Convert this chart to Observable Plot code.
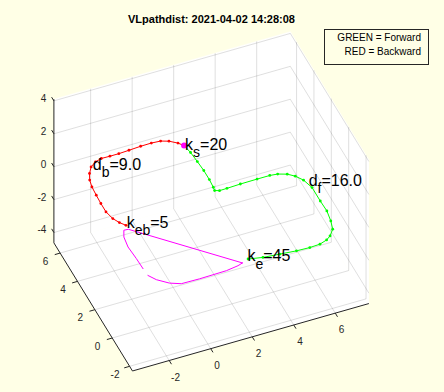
<!DOCTYPE html>
<html><head><meta charset="utf-8">
<script src="https://cdn.jsdelivr.net/npm/d3@7"></script>
<script src="https://cdn.jsdelivr.net/npm/@observablehq/plot@0.6"></script>
<style>
html,body{margin:0;padding:0;background:#ffffe6;}
#fig{position:relative;width:444px;height:392px;overflow:hidden;font-family:"Liberation Sans",Arial,Helvetica,sans-serif;}
#fig svg{position:absolute;left:0;top:0;}
#title{position:absolute;left:0;top:13px;width:423px;text-align:center;font-weight:bold;font-size:11px;line-height:13px;color:#000;white-space:nowrap;}
#legend{position:absolute;left:324px;top:29px;width:105px;height:36px;box-sizing:border-box;border:1px solid #262626;background:#ffffe6;text-align:right;padding:0.9px 7px 0 0;font-size:10px;line-height:14.3px;color:#000;white-space:nowrap;}
</style></head>
<body><div id="fig"></div>
<script>
// ---- axes limits and ticks (data units) ----
const xLim = [-3.77, 7.62];
const yLim = [-2.33, 6.72];
const zLim = [-4.63, 4.10];
const xTicks = [-2, 0, 2, 4, 6];
const yTicks = [-2, 0, 2, 4, 6];
const zTicks = [-4, -2, 0, 2, 4];

// ---- paths (x, y) on the plane z = pathZ ----
const pathZ = 0;
const redX = [2.10,1.91,1.59,1.25,0.82,0.30,-0.28,-0.78,-1.21,-1.62,-1.94,-2.25,-2.48,-2.64,-2.72,-2.75,-2.77,-2.77,-2.66,-2.49,-2.29];
const redY = [5.76,6.01,6.28,6.43,6.47,6.46,6.42,6.39,6.39,6.40,6.30,6.07,5.70,5.30,4.85,4.28,3.70,3.11,2.59,2.24,1.96];
const greenX = [2.10,2.19,2.24,2.28,2.28,2.25,2.22,2.42,2.78,3.44,4.25,4.86,5.22,5.61,5.89,6.13,6.29,6.29,6.31,6.22,6.09,5.81,5.57,5.19,4.69,4.06,3.29,2.52,1.87];
const greenY = [5.76,5.23,4.57,3.92,3.28,2.75,2.53,2.44,2.45,2.48,2.49,2.49,2.44,2.27,2.01,1.63,1.04,0.09,-0.62,-1.29,-1.82,-2.18,-2.36,-2.50,-2.53,-2.50,-2.41,-2.32,-2.16];
const magAX = [1.54,-2.29,-2.50,-2.67,-2.75,-2.70,-2.68];
const magAY = [-2.30,1.68,1.70,1.29,0.62,-0.22,-0.94];
const magBX = [-2.65,-2.41,-1.96,-1.49,-0.62,0.69,1.29,1.54];
const magBY = [-1.43,-1.83,-2.26,-2.50,-2.52,-2.49,-2.39,-2.30];

// ---- annotations ----
const labelMain = ["k", "d", "k", "d", "k"];
const labelSub  = ["s", "b", "eb", "f", "e"];
const labelRest = ["=20", "=9.0", "=5", "=16.0", "=45"];
const labelX = [2.10, -2.18, -2.25, 6.26, 1.85];
const labelY = [5.76, 6.16, 2.09, 1.47, -2.02];
const startX = 2.10, startY = 5.76;

const titleText = "VLpathdist: 2021-04-02 14:28:08";
const legendLines = ["GREEN = Forward", "RED = Backward"];

// ---- view (orthographic, azimuth / elevation) ----
const W = 444, H = 392;
const AZ = -22.7 * Math.PI / 180, EL = 43 * Math.PI / 180;
const S = 22.5, OX = 190.0, OY = 239.0;
const ca = Math.cos(AZ), sa = Math.sin(AZ), se = Math.sin(EL), ce = Math.cos(EL);
const U = p => ca * p[0] + sa * p[1];
const V = p => -se * sa * p[0] + se * ca * p[1] + ce * p[2];

const [x0, x1] = xLim, [y0, y1] = yLim, [z0, z1] = zLim;

const faces = [
  [[x0,y0,z0],[x1,y0,z0],[x1,y1,z0],[x0,y1,z0]],
  [[x0,y1,z0],[x1,y1,z0],[x1,y1,z1],[x0,y1,z1]],
  [[x1,y0,z0],[x1,y1,z0],[x1,y1,z1],[x1,y0,z1]]
];
const facePts = faces.flatMap((f, i) => f.map(p => ({p, i})));

const grid = [];
for (const t of xTicks) { grid.push([[t,y0,z0],[t,y1,z0]]); grid.push([[t,y1,z0],[t,y1,z1]]); }
for (const t of yTicks) { grid.push([[x0,t,z0],[x1,t,z0]]); grid.push([[x1,t,z0],[x1,t,z1]]); }
for (const t of zTicks) { grid.push([[x0,y1,t],[x1,y1,t]]); grid.push([[x1,y0,t],[x1,y1,t]]); }

const axesLines = [[[x0,y0,z0],[x1,y0,z0]], [[x0,y0,z0],[x0,y1,z0]], [[x0,y1,z0],[x0,y1,z1]]];
const TL = 0.26;
const tickSegs = [
  ...xTicks.map(t => [[t,y0,z0],[t,y0-TL,z0]]),
  ...yTicks.map(t => [[x0,t,z0],[x0-TL,t,z0]]),
  ...zTicks.map(t => [[x0,y1,t],[x0,y1+TL,t]])
];
const xLab = xTicks.map(t => ({p:[t,y0,z0], s:String(t)}));
const yLab = yTicks.map(t => ({p:[x0,t,z0], s:String(t)}));
const zLab = zTicks.map(t => ({p:[x0,y1,t], s:String(t)}));

const toPts = (X, Y) => X.map((x, i) => [x, Y[i], pathZ]);
const red = toPts(redX, redY);
const green = toPts(greenX, greenY);
const magA = toPts(magAX, magAY);
const magB = toPts(magBX, magBY);
const labels = labelMain.map((m, i) => ({p:[labelX[i], labelY[i], pathZ], main:m, sub:labelSub[i], rest:labelRest[i]}));

const FONT = '"Liberation Sans",Arial,Helvetica,sans-serif';
const ctx = document.createElement("canvas").getContext("2d");
const tw = (s, size) => { ctx.font = `${size}px "Liberation Sans"`; return ctx.measureText(s).width; };
const MAIN = 16, SUB = 14;

const pos = {x: d => U(d.p), y: d => V(d.p)};
const link = (data, o) => Plot.link(data, {x1: d => U(d[0]), y1: d => V(d[0]), x2: d => U(d[1]), y2: d => V(d[1]), ...o});
const pline = (data, o) => Plot.line(data, {x: U, y: V, ...o});

const labelMarks = labels.flatMap(l => {
  const w1 = tw(l.main, MAIN), w2 = tw(l.sub, SUB);
  const base = {...pos, textAnchor: "start", lineAnchor: "bottom", fill: "#000", fontFamily: FONT};
  return [
    Plot.text([l], {...base, text: d => d.main, dx: 1, dy: 4.3, fontSize: MAIN}),
    Plot.text([l], {...base, text: d => d.sub, dx: 1 + w1, dy: 11.8, fontSize: SUB}),
    Plot.text([l], {...base, text: d => d.rest, dx: 1 + w1 + w2, dy: 4.3, fontSize: MAIN})
  ];
});

const chart = Plot.plot({
  width: W, height: H, margin: 0,
  x: {domain: [-OX / S, (W - OX) / S], axis: null},
  y: {domain: [(OY - H) / S, OY / S], axis: null},
  style: `background:transparent;overflow:visible;font-family:${FONT};`,
  marks: [
    Plot.line(facePts, {x: d => U(d.p), y: d => V(d.p), z: "i", fill: "white", stroke: "white", strokeWidth: 0.5}),
    link(grid, {stroke: "#262626", strokeOpacity: 0.15, strokeWidth: 1}),
    link(axesLines, {stroke: "#262626", strokeWidth: 1}),
    link(tickSegs, {stroke: "#262626", strokeWidth: 1}),
    Plot.text(xLab, {...pos, text: "s", dx: 6.3, dy: 17, fontSize: 10, fill: "#262626", fontFamily: FONT}),
    Plot.text(yLab, {...pos, text: "s", dx: -14.6, dy: 8.3, fontSize: 10, fill: "#262626", fontFamily: FONT}),
    Plot.text(zLab, {...pos, text: "s", textAnchor: "end", dx: -7.5, dy: -2.3, fontSize: 10, fill: "#262626", fontFamily: FONT}),
    pline(magA, {stroke: "#ff00ff", strokeWidth: 1}),
    pline(magB, {stroke: "#ff00ff", strokeWidth: 1}),
    pline(red, {stroke: "#ff0000", strokeWidth: 1}),
    pline(green, {stroke: "#00ff00", strokeWidth: 1}),
    Plot.dot(red, {x: U, y: V, r: 1.4, fill: "#ff0000", stroke: null}),
    Plot.dot(green, {x: U, y: V, r: 1.4, fill: "#00ff00", stroke: null}),
    Plot.dot([[startX, startY, pathZ]], {x: U, y: V, r: 3, fill: "#ff00ff", stroke: null}),
    ...labelMarks
  ]
});

const fig = document.getElementById("fig");
fig.appendChild(chart);
const title = document.createElement("div");
title.id = "title"; title.textContent = titleText;
fig.appendChild(title);
const legend = document.createElement("div");
legend.id = "legend";
legendLines.forEach(s => { const d = document.createElement("div"); d.textContent = s; legend.appendChild(d); });
fig.appendChild(legend);
</script>
</body></html>
